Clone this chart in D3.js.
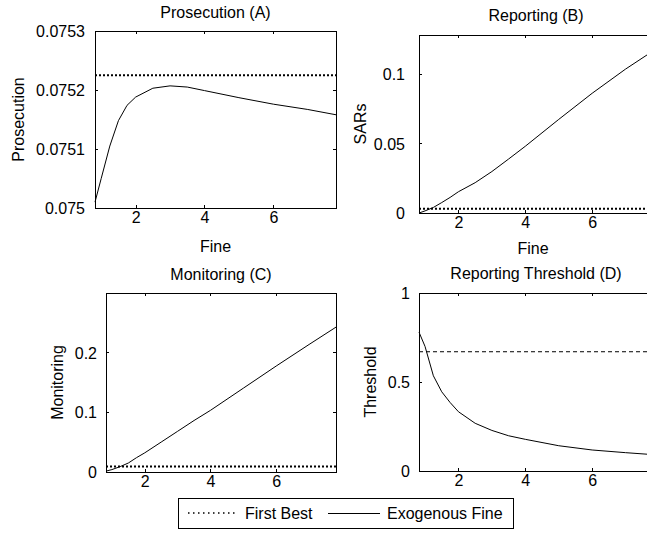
<!DOCTYPE html>
<meta charset="utf-8">
<title>Fine panels</title>
<style>
  body { margin: 0; background: #fff; }
  svg { display: block; font-family: "Liberation Sans", Arial, sans-serif; }
  .tick line { stroke: #000; }
  .tick text { font-size: 16px; fill: #000; }
  .box { fill: none; stroke: #000; stroke-width: 1; shape-rendering: crispEdges; }
  .lbl { font-size: 16px; fill: #000; }
</style>
<body>
<svg id="chart" width="647" height="533"></svg>
<script src="https://cdnjs.cloudflare.com/ajax/libs/d3/7.8.5/d3.min.js"></script>
<script>
// x values (Fine) shared by all four panels
var fine = [0.82, 1.0, 1.25, 1.5, 1.75, 2, 2.5, 3, 3.5, 4, 5, 6, 7, 7.82];

// exogenous fine series
var prosecution = [0.075010, 0.075050, 0.075105, 0.075148, 0.075174, 0.075188, 0.075203, 0.075207, 0.075205, 0.075199, 0.075187, 0.075176, 0.075167, 0.075158];
var sars        = [0.0, 0.0015, 0.004, 0.0075, 0.0112, 0.0153, 0.0218, 0.0298, 0.0388, 0.048, 0.0673, 0.0861, 0.1035, 0.1165];
var monitoring  = [0.0015, 0.004, 0.009, 0.015, 0.024, 0.032, 0.05, 0.068, 0.086, 0.103, 0.140, 0.177, 0.213, 0.242];
var threshold   = [0.78, 0.70, 0.535, 0.445, 0.385, 0.333, 0.268, 0.228, 0.198, 0.178, 0.142, 0.118, 0.103, 0.092];

// first best levels (flat lines)
var firstBest = [0.075225, 0.003, 0.009, 0.67];

// tick values
var xTicks = [2, 4, 6];
var yTicksA = [0.075, 0.0751, 0.0752, 0.0753];
var yTicksB = [0, 0.05, 0.1];
var yTicksC = [0, 0.1, 0.2];
var yTicksD = [0, 0.5, 1];

var titles = ["Prosecution (A)", "Reporting (B)", "Monitoring (C)", "Reporting Threshold (D)"];
var yLabels = ["Prosecution", "SARs", "Monitoring", "Threshold"];
var legendLabels = ["First Best", "Exogenous Fine"];

var svg = d3.select("#chart");

var panels = [
  {x0: 95,  x1: 336, y0: 31,  y1: 208, yDom: [0.075, 0.0753], ticks: yTicksA, data: prosecution, fb: firstBest[0], dash: "2,2", fbw: 2, gap: 7,  ylx: 18,  xly: 44},
  {x0: 419, x1: 653, y0: 35,  y1: 213, yDom: [0, 0.128],       ticks: yTicksB, data: sars,        fb: firstBest[1], dash: "2,2", fbw: 2, gap: 11, ylx: 360, xly: 41},
  {x0: 106, x1: 336, y0: 293, y1: 472, yDom: [0, 0.299],       ticks: yTicksC, data: monitoring,  fb: firstBest[2], dash: "2,2", fbw: 2, gap: 6,  ylx: 57,  xly: 0},
  {x0: 419, x1: 653, y0: 293, y1: 471, yDom: [0, 1],           ticks: yTicksD, data: threshold,   fb: firstBest[3], dash: "4,3", fbw: 1, gap: 6,  ylx: 370, xly: 0}
];

panels.forEach(function(p, i) {
  var x = d3.scaleLinear().domain([0.82, 7.82]).range([p.x0, p.x1]);
  var y = d3.scaleLinear().domain(p.yDom).range([p.y1, p.y0]);
  var g = svg.append("g");

  // ticks on all four sides, pointing inward
  g.append("g").attr("transform", "translate(0," + p.y1 + ")")
    .call(d3.axisBottom(x).tickValues(xTicks).tickSizeInner(-3).tickSizeOuter(0).tickPadding(9).tickFormat(d3.format("d")))
    .call(function(s) { s.select(".domain").remove(); });
  g.append("g").attr("transform", "translate(0," + p.y0 + ")")
    .call(d3.axisTop(x).tickValues(xTicks).tickSizeInner(-3).tickSizeOuter(0).tickFormat(""))
    .call(function(s) { s.select(".domain").remove(); });
  g.append("g").attr("transform", "translate(" + p.x0 + ",0)")
    .call(d3.axisLeft(y).tickValues(p.ticks).tickSizeInner(-3).tickSizeOuter(0).tickPadding(p.gap + 3).tickFormat(d3.format("~g")))
    .call(function(s) { s.select(".domain").remove(); });
  g.append("g").attr("transform", "translate(" + p.x1 + ",0)")
    .call(d3.axisRight(y).tickValues(p.ticks).tickSizeInner(-3).tickSizeOuter(0).tickFormat(""))
    .call(function(s) { s.select(".domain").remove(); });

  g.selectAll(".tick text").attr("dy", "0.36em");
  g.selectAll(".tick line").attr("shape-rendering", "crispEdges");

  g.append("rect").attr("class", "box")
    .attr("x", p.x0 + 0.5).attr("y", p.y0 + 0.5)
    .attr("width", p.x1 - p.x0).attr("height", p.y1 - p.y0);

  // first best
  g.append("line")
    .attr("x1", x(0.82)).attr("x2", x(7.82))
    .attr("y1", y(p.fb)).attr("y2", y(p.fb))
    .attr("stroke", "#000").attr("stroke-width", p.fbw)
    .attr("stroke-dasharray", p.dash);

  // exogenous fine
  var line = d3.line().x(function(d, j) { return x(fine[j]); }).y(function(d) { return y(d); });
  g.append("path").datum(p.data)
    .attr("d", line)
    .attr("fill", "none").attr("stroke", "#000").attr("stroke-width", 1);

  g.append("text").attr("class", "lbl")
    .attr("x", (p.x0 + p.x1) / 2).attr("y", p.y0 - (i % 2 ? 14 : 13))
    .attr("text-anchor", "middle").text(titles[i]);

  g.append("text").attr("class", "lbl")
    .attr("transform", "translate(" + (p.ylx + 6) + "," + ((p.y0 + p.y1) / 2) + ") rotate(-90)")
    .attr("text-anchor", "middle").text(yLabels[i]);

  if (p.xly) {
    g.append("text").attr("class", "lbl")
      .attr("x", (p.x0 + p.x1) / 2 - (i % 2 ? 3 : 0)).attr("y", p.y1 + p.xly)
      .attr("text-anchor", "middle").text("Fine");
  }
});

// legend
var lg = svg.append("g");
lg.append("rect").attr("class", "box").attr("x", 178.5).attr("y", 498.5).attr("width", 335).attr("height", 30).style("fill", "#fff");
lg.append("line").attr("x1", 188).attr("x2", 238).attr("y1", 513).attr("y2", 513)
  .attr("stroke", "#000").attr("stroke-width", 1.5).attr("stroke-dasharray", "1.5,3.5");
lg.append("text").attr("class", "lbl").attr("x", 245).attr("y", 519).text(legendLabels[0]);
lg.append("line").attr("x1", 328).attr("x2", 380).attr("y1", 513.5).attr("y2", 513.5)
  .attr("stroke", "#000").attr("stroke-width", 1);
lg.append("text").attr("class", "lbl").attr("x", 387).attr("y", 519).text(legendLabels[1]);
</script>
</body>
